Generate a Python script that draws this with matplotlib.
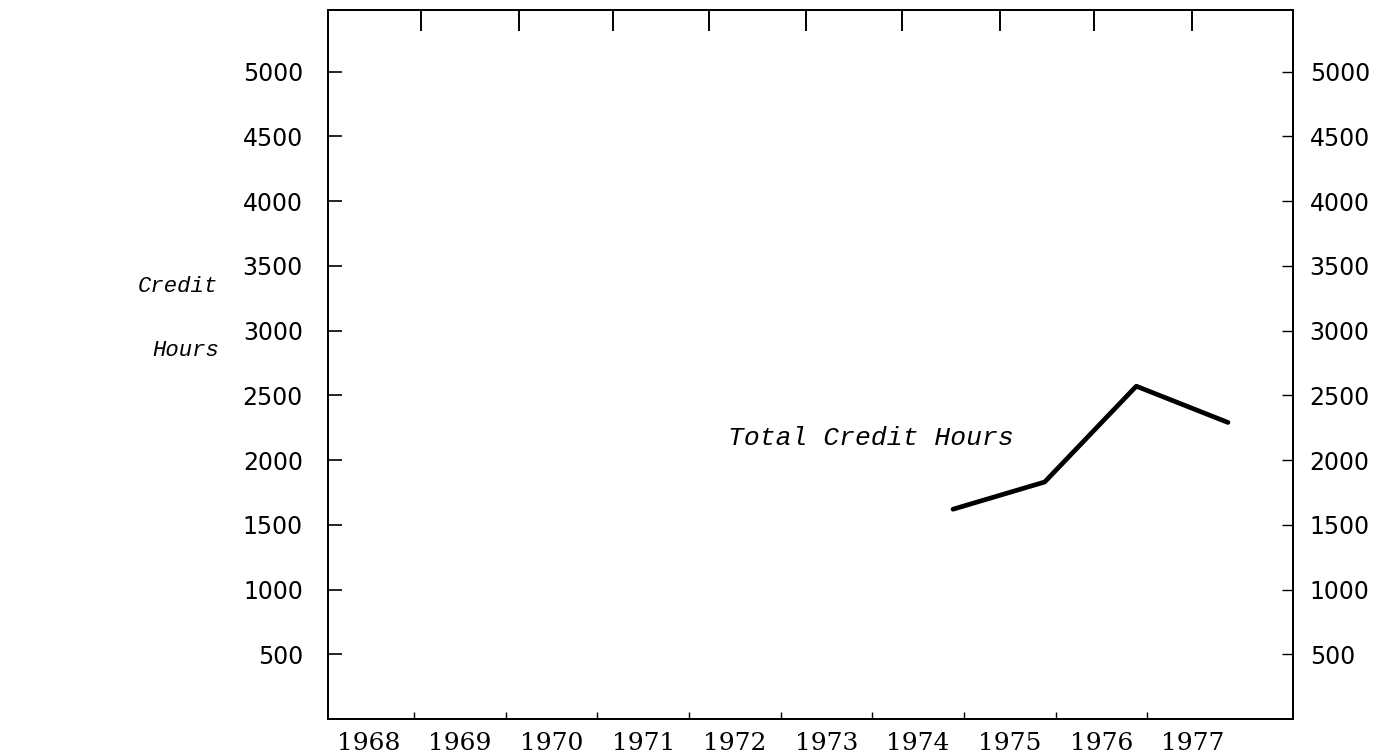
import matplotlib
matplotlib.use("Agg")
import matplotlib.pyplot as plt
import numpy as np

# values
years = [1968, 1969, 1970, 1971, 1972, 1973, 1974, 1975, 1976, 1977]
data_years = [1974, 1975, 1976, 1977]
credit_hours = [1620, 1830, 2570, 2290]
y_ticks = [500, 1000, 1500, 2000, 2500, 3000, 3500, 4000, 4500, 5000]

W, H = 1374, 754
fig = plt.figure(figsize=(W / 100, H / 100), dpi=100)
# axes box in pixels: left 328, right 1293, top 10, bottom 719
ax = fig.add_axes([328 / W, 1 - 719 / H, (1293 - 328) / W, (719 - 10) / H])
ax.set_xlim(1967.56, 1978.09)
ax.set_ylim(0, 5475)

for s in ax.spines.values():
    s.set_linewidth(1.4)
    s.set_color("black")

# points sit a bit right of the year labels in the original drawing
shift = 0.38
ax.plot(np.array(data_years) + shift, credit_hours, color="black", lw=3.4,
        solid_capstyle="round", solid_joinstyle="round")

# bottom: year labels, tiny ticks between years
ax.set_xticks(years)
ax.set_xticklabels([str(y) for y in years], family="DejaVu Serif", fontsize=18)
ax.set_xticks([y + 0.5 for y in years[:-1]], minor=True)
ax.tick_params(axis="x", which="major", length=0, pad=9)
ax.tick_params(axis="x", which="minor", direction="in", length=5, width=1)

# left labels
ax.set_yticks(y_ticks)
ax.set_yticklabels([str(v) for v in y_ticks], family="DejaVu Sans", fontsize=17)
ax.tick_params(axis="y", direction="in", length=10, width=1.2, pad=18)

# top ticks (slightly wider spacing than the bottom ones)
top = ax.twiny()
top.set_xlim(ax.get_xlim())
top.set_xticks([1968.57, 1969.64, 1970.67, 1971.72, 1972.78,
                1973.82, 1974.89, 1975.92, 1976.99])
top.set_xticklabels([])
top.tick_params(axis="x", direction="in", length=15, width=1.4)

# right labels
right = ax.twinx()
right.set_ylim(ax.get_ylim())
right.set_yticks(y_ticks)
right.set_yticklabels([str(v) for v in y_ticks], family="DejaVu Sans", fontsize=17)
right.tick_params(axis="y", direction="in", length=8, width=1, pad=12)
for a in (top, right):
    for s in a.spines.values():
        s.set_linewidth(1.4)

ax.text(1973.48, 2170, "Total Credit Hours", family="Liberation Mono",
        style="italic", fontsize=19, ha="center", va="center")

fig.text(178 / W, 1 - 286 / H, "Credit", family="Liberation Mono",
         style="italic", fontsize=16, ha="center", va="center")
fig.text(186 / W, 1 - 350 / H, "Hours", family="Liberation Mono",
         style="italic", fontsize=16, ha="center", va="center")

fig.savefig("out.png", dpi=100)
